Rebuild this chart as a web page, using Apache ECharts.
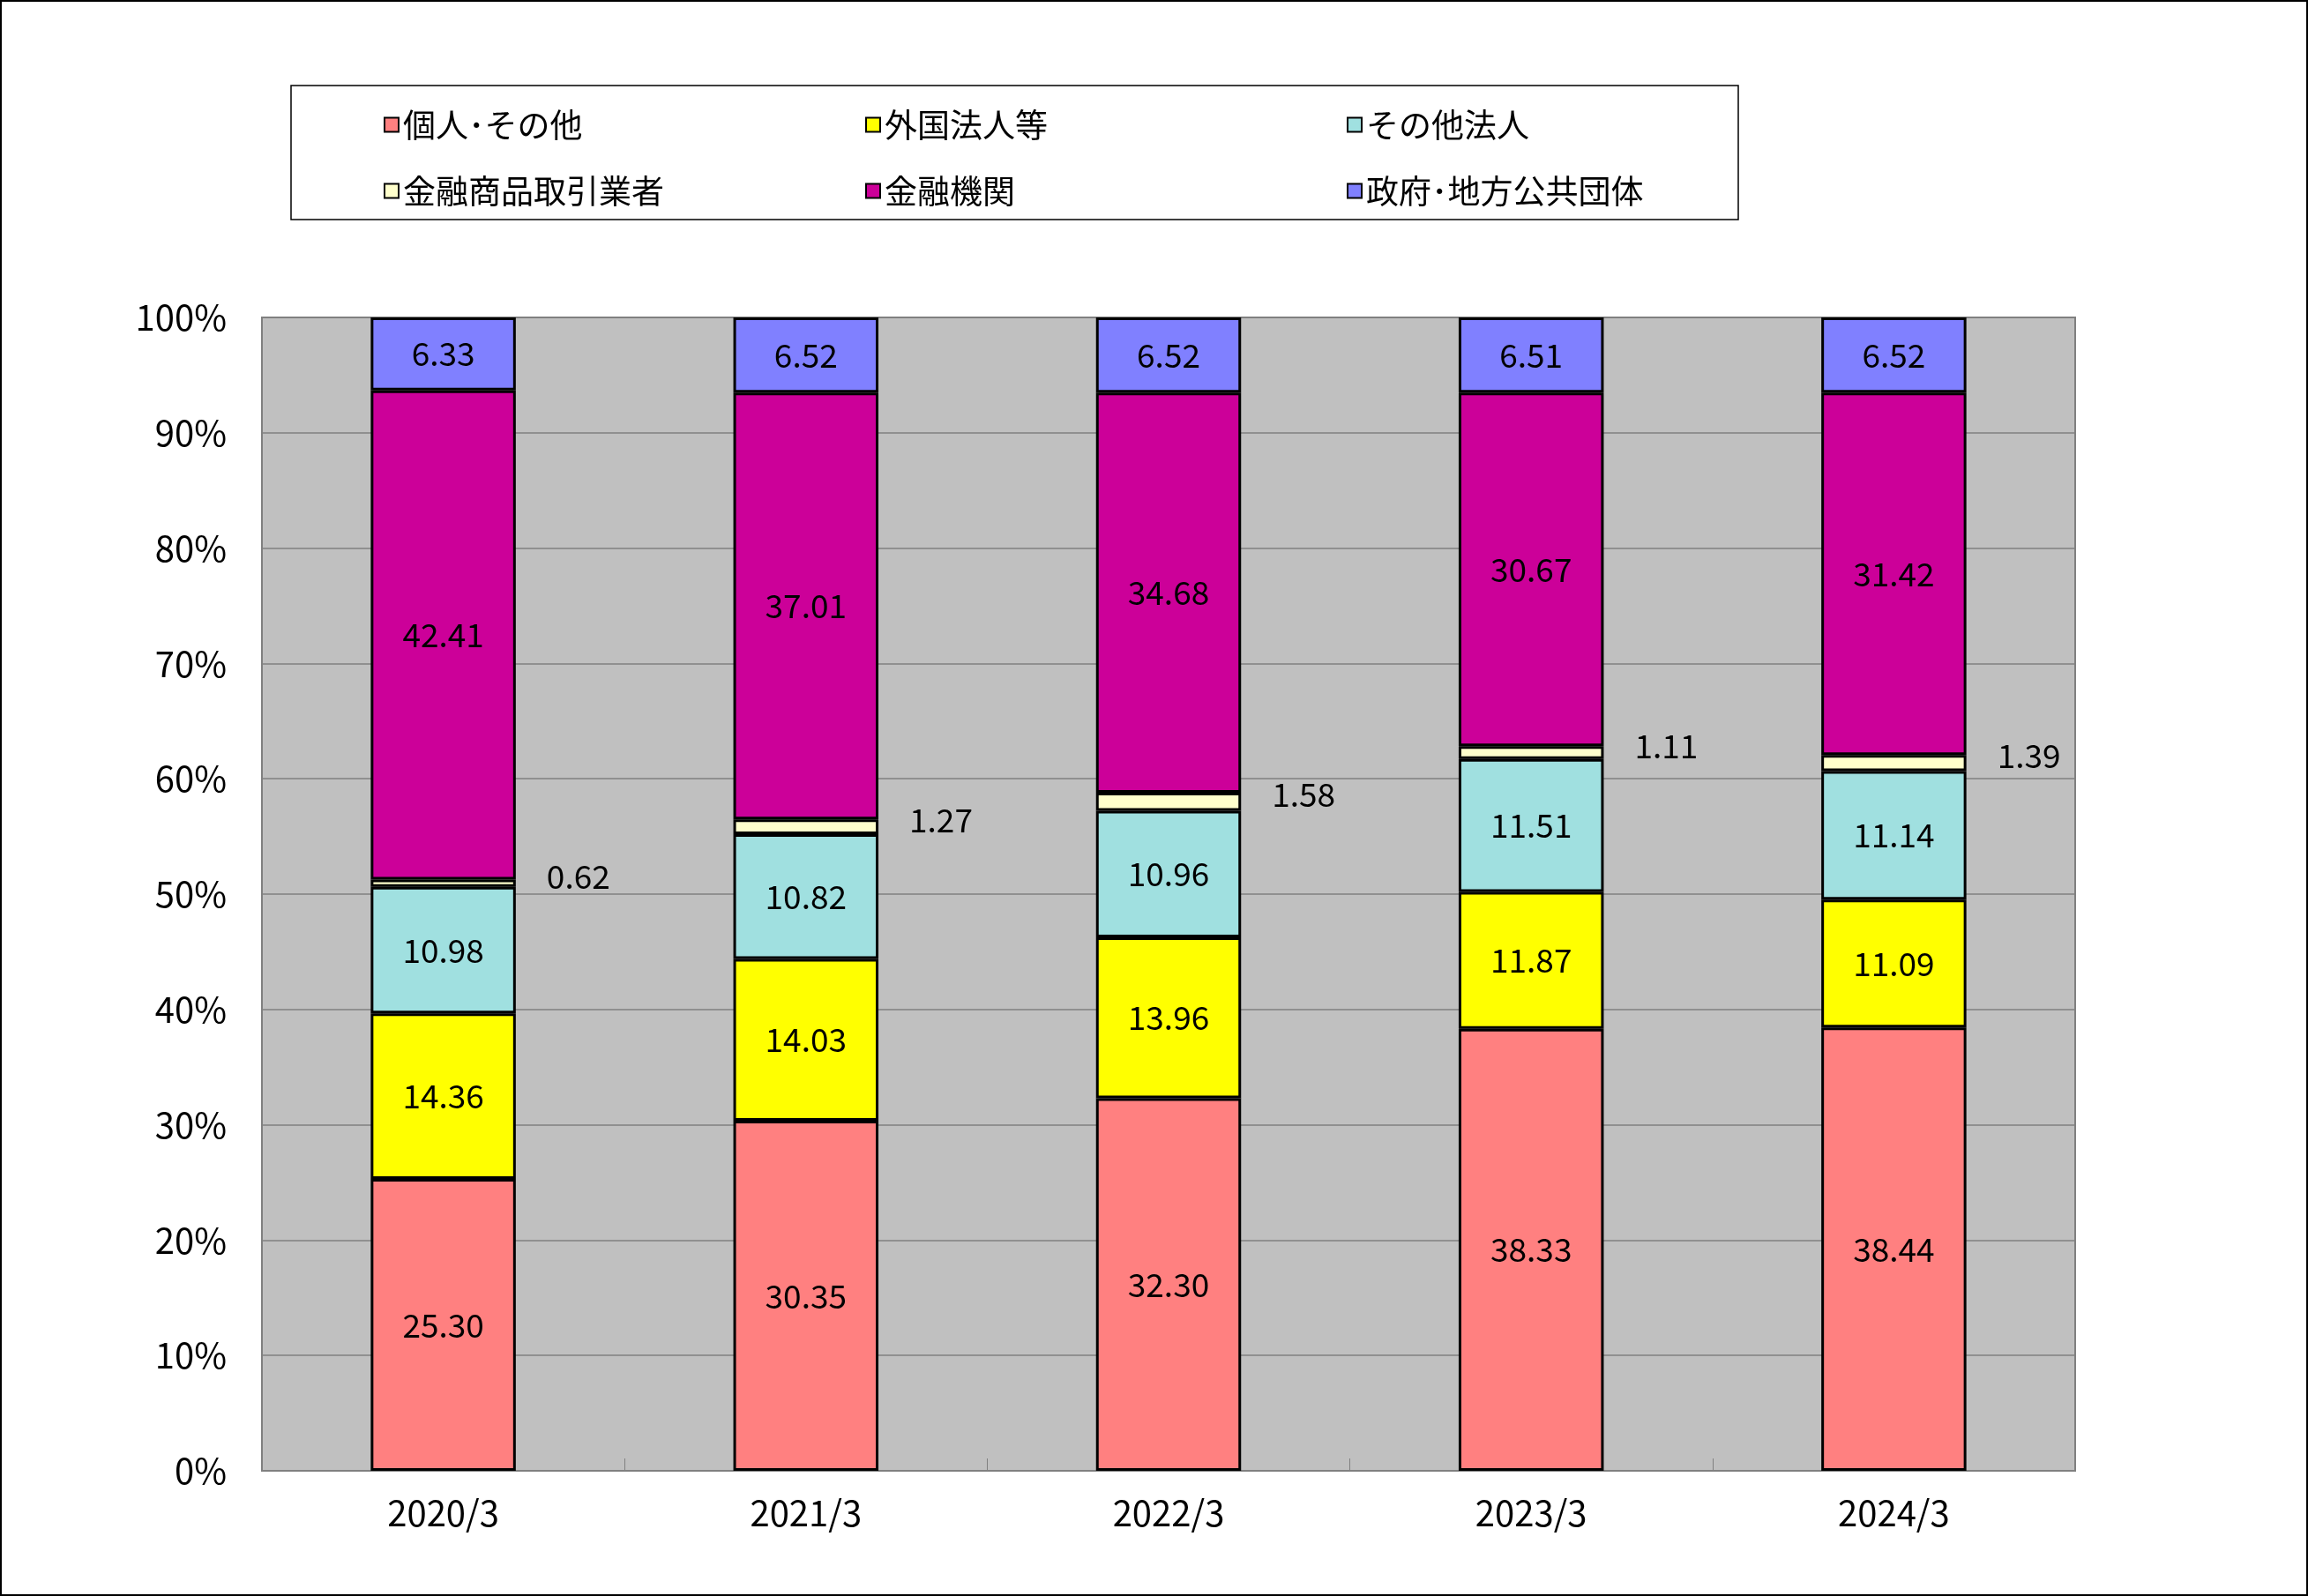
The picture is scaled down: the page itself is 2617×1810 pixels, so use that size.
<!DOCTYPE html>
<html><head><meta charset="utf-8">
<script src="https://cdn.jsdelivr.net/npm/echarts@6/dist/echarts.min.js"></script>
<style>html,body{margin:0;padding:0;background:#fff}#c{width:2617px;height:1810px}</style>
</head><body><div id="c"></div>
<script>
const categories = ['2020/3', '2021/3', '2022/3', '2023/3', '2024/3'];
const seriesNames = ['個人･その他', '外国法人等', 'その他法人', '金融商品取引業者', '金融機関', '政府･地方公共団体'];
const kojin = [25.30, 30.35, 32.30, 38.33, 38.44];
const gaikoku = [14.36, 14.03, 13.96, 11.87, 11.09];
const sonota = [10.98, 10.82, 10.96, 11.51, 11.14];
const shoken = [0.62, 1.27, 1.58, 1.11, 1.39];
const kinyu = [42.41, 37.01, 34.68, 30.67, 31.42];
const seifu = [6.33, 6.52, 6.52, 6.51, 6.52];
const colors = ['#ff8080', '#ffff00', '#a0e0e0', '#ffffcc', '#cc0099', '#8080ff'];
const allData = [kojin, gaikoku, sonota, shoken, kinyu, seifu];

const font = '"Noto Sans CJK JP", sans-serif';
const chart = echarts.init(document.getElementById('c'));

const legendPos = [[430, 118], [976, 118], [1522, 118], [430, 193], [976, 193], [1522, 193]];

chart.setOption({
  backgroundColor: '#fff',
  animation: false,
  textStyle: { fontFamily: font },
  graphic: [
    { type: 'rect', shape: { x: 1, y: 1, width: 2615, height: 1808 }, style: { fill: 'none', stroke: '#000', lineWidth: 2 } },
    { type: 'rect', shape: { x: 330, y: 97, width: 1641, height: 152 }, style: { fill: '#fff', stroke: '#000', lineWidth: 1.5 }, z: -1 }
  ],
  legend: seriesNames.map((n, i) => ({
    data: [n], left: legendPos[i][0], top: legendPos[i][1],
    icon: 'rect', itemWidth: 16, itemHeight: 16, itemGap: 6,
    textStyle: { fontSize: 37, fontFamily: font, color: '#000' }
  })),
  grid: { left: 297, right: 264, top: 360, bottom: 142, show: true, backgroundColor: '#c0c0c0', borderColor: '#808080', borderWidth: 2 },
  xAxis: {
    type: 'category', data: categories,
    axisLine: { lineStyle: { color: '#808080', width: 2 } },
    axisTick: { show: true, length: 14, inside: true, lineStyle: { color: '#808080' } },
    axisLabel: { fontSize: 40, color: '#000', margin: 28, fontFamily: font }
  },
  yAxis: {
    type: 'value', min: 0, max: 100, interval: 10,
    axisLine: { show: true, lineStyle: { color: '#808080', width: 2 } },
    axisTick: { show: false },
    splitLine: { lineStyle: { color: '#808080', width: 1.5 } },
    axisLabel: { formatter: '{value}%', fontSize: 40, color: '#000', margin: 40, fontFamily: font }
  },
  series: seriesNames.map((n, i) => ({
    name: n, type: 'bar', stack: 'total', barWidth: '40%',
    data: allData[i],
    itemStyle: { color: colors[i], borderColor: '#000', borderWidth: 3 },
    label: {
      show: true, fontSize: 37, color: '#000', fontFamily: font,
      position: i === 3 ? 'right' : 'inside',
      offset: i === 3 ? [30, -8] : [0, 0],
      formatter: p => p.value.toFixed(2)
    }
  }))
});
</script></body></html>
